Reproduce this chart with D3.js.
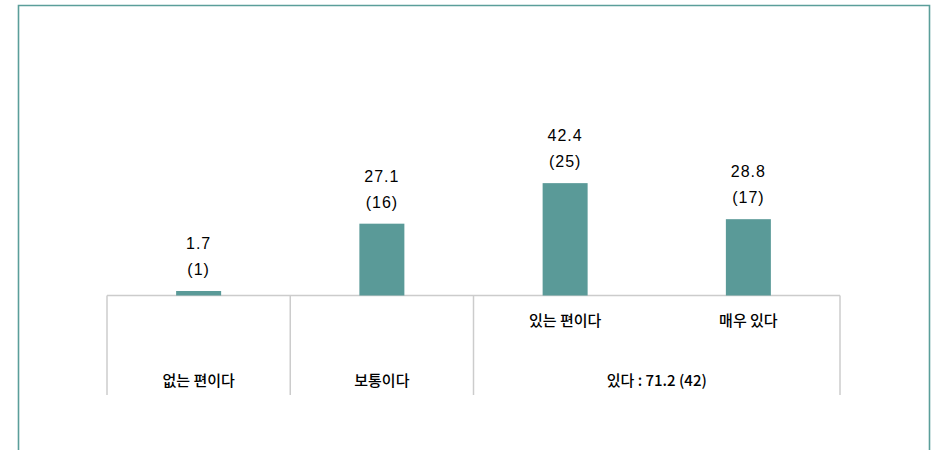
<html>
<head>
  <script src="https://d3js.org/d3.v7.min.js"></script>
  <style>
  body { margin: 0; background: #fff; }
  svg text { font-family: "Noto Sans CJK KR", "Noto Sans", sans-serif; fill: #000; font-weight: 500; }
  svg text.num { font-family: "Liberation Sans", Arial, sans-serif; letter-spacing: 1px; }
  </style>
</head>
<body>
  <svg width="936" height="450"></svg>

<script>
// 응답 범주, 비율(%), 응답자 수
var categories = ["없는 편이다", "보통이다", "있는 편이다", "매우 있다"];
var percents = [1.7, 27.1, 42.4, 28.8];
var counts = [1, 16, 25, 17];
// 묶음 (있다 = 있는 편이다 + 매우 있다)
var groupLabel = "있다 : 71.2 (42)";
var groupMembers = ["있는 편이다", "매우 있다"];

var svg = d3.select("svg");

// frame
svg.append("path")
  .attr("d", "M18.5,460 V5.5 H929.5 V460")
  .attr("fill", "none")
  .attr("stroke", "#5b9e9a")
  .attr("stroke-width", 1.6);

var baseY = 295.5, bottomY = 395;

var x = d3.scaleBand().domain(categories).range([107, 840]);
var y = d3.scaleLinear().domain([0, 50]).range([baseY, baseY - 132.5]);
var barW = 45;

// baseline
svg.append("line")
  .attr("x1", x.range()[0]).attr("x2", x.range()[1])
  .attr("y1", baseY).attr("y2", baseY)
  .attr("stroke", "#cccccc").attr("stroke-width", 1.5);

// vertical separators: left edge of each non-grouped cell + group start + right end
var seps = [x("없는 편이다"), x("보통이다"), x(groupMembers[0]), x.range()[1]];
svg.selectAll("line.sep").data(seps).enter().append("line")
  .attr("class", "sep")
  .attr("x1", function(d){ return d; }).attr("x2", function(d){ return d; })
  .attr("y1", baseY).attr("y2", bottomY)
  .attr("stroke", "#cccccc").attr("stroke-width", 1.5);

// bars
svg.selectAll("rect.bar").data(percents).enter().append("rect")
  .attr("class", "bar")
  .attr("x", function(d, i){ return x(categories[i]) + x.bandwidth()/2 - barW/2; })
  .attr("y", function(d){ return y(d); })
  .attr("width", barW)
  .attr("height", function(d){ return baseY - y(d); })
  .attr("fill", "#5a9a98");

// value labels
var lbl = svg.selectAll("g.lbl").data(percents).enter().append("g")
  .attr("class", "lbl")
  .attr("transform", function(d, i){
    return "translate(" + (x(categories[i]) + x.bandwidth()/2) + "," + y(d) + ")";
  });
lbl.append("text")
  .attr("class", "num")
  .attr("y", -42)
  .attr("text-anchor", "middle")
  .attr("font-size", 16)
  .text(function(d){ return d.toFixed(1); });
lbl.append("text")
  .attr("class", "num")
  .attr("y", -16)
  .attr("text-anchor", "middle")
  .attr("font-size", 16)
  .text(function(d, i){ return "(" + counts[i] + ")"; });

// category labels
categories.forEach(function(c){
  var inGroup = groupMembers.indexOf(c) >= 0;
  svg.append("text")
    .attr("x", x(c) + x.bandwidth()/2)
    .attr("y", inGroup ? 326 : 386)
    .attr("text-anchor", "middle")
    .attr("font-size", 15)
    .text(c);
});

svg.append("text")
  .attr("x", (x(groupMembers[0]) + x.range()[1]) / 2)
  .attr("y", 386)
  .attr("text-anchor", "middle")
  .attr("font-size", 15)
  .text(groupLabel);
</script>
</body></html>
